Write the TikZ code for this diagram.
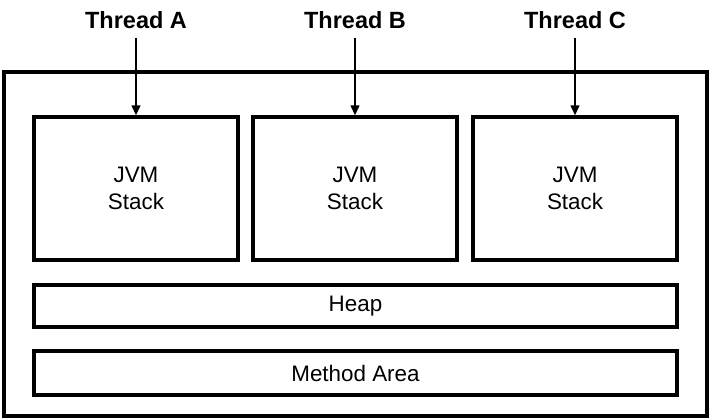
\documentclass[tikz,border=0pt]{standalone}
\usepackage{fontspec}
\setmainfont{Liberation Sans}
\usetikzlibrary{arrows.meta}
\begin{document}
\begin{tikzpicture}[x=0.75pt,y=-0.75pt,
  boxline/.style={draw=black,line width=2.4pt},
  stackbox/.style={boxline,minimum width=204*0.75pt,minimum height=143*0.75pt,inner sep=0pt,align=center,font=\fontsize{16.8}{20.5}\selectfont},
  barbox/.style={boxline,minimum width=643*0.75pt,inner sep=0pt,font=\fontsize{16.8}{20}\selectfont},
  thread/.style={font=\bfseries\fontsize{17.6}{21}\selectfont,inner sep=0pt,text depth=0pt,text height=12.6pt},
  arr/.style={line width=1.5pt,-{Triangle[length=7.5pt,width=6.5pt]}}]
\useasboundingbox (0,0) rectangle (712,420);
\node[boxline,minimum width=703*0.75pt,minimum height=344*0.75pt,inner sep=0pt] (outer) at (355.5,244) {};
\node[stackbox] (s1) at (136,188.5) {JVM\\Stack};
\node[stackbox] (s2) at (355,188.5) {JVM\\Stack};
\node[stackbox] (s3) at (575,188.5) {JVM\\Stack};
\node[barbox,minimum height=42*0.75pt] (heap) at (355.5,306) {Heap};
\node[barbox,minimum height=44*0.75pt] (meth) at (355.5,373) {Method Area};
\node[thread] (tA) at (136,20) {Thread A};
\node[thread] (tB) at (355,20) {Thread B};
\node[thread] (tC) at (575,20) {Thread C};
\foreach \t/\s in {tA/s1,tB/s2,tC/s3}
  \draw[arr] ([yshift=-9*0.75pt]\t.south) -- (\s.north);
\end{tikzpicture}
\end{document}
